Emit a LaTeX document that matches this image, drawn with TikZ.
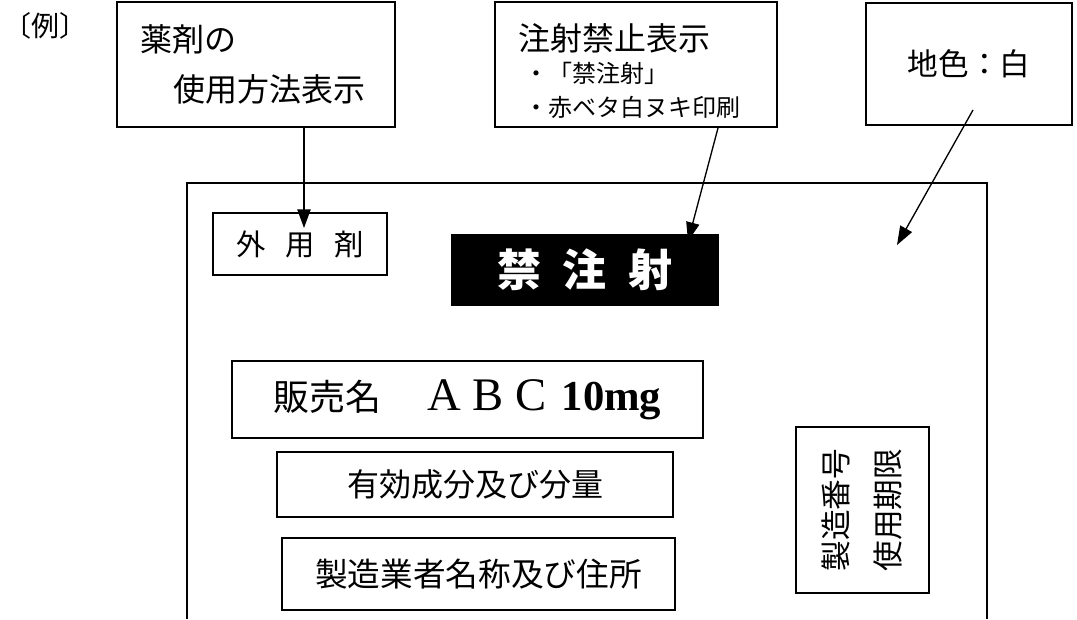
\documentclass[tikz,border=0pt]{standalone}
\usepackage{fontspec}
\setmainfont{Liberation Serif}
\newfontfamily\jp{Noto Sans CJK JP}
\usetikzlibrary{positioning,arrows.meta}

\begin{document}
\begin{tikzpicture}[
    x=0.75pt, y=-0.75pt,
    box/.style = {draw, line width=1.5pt, inner sep=0pt, align=center, font=\jp},
    > = {Triangle[length=14pt, width=10pt]}
]
\useasboundingbox (0,0) rectangle (1077,619);

\node (ex) [inner sep=0pt, anchor=west, font=\jp\fontsize{21}{23}\selectfont] at (3,26) {〔例〕};

% notes above the label
\node (use) [box, minimum width=208.5pt, minimum height=93.75pt, inner xsep=17.25pt, text width=174pt, align=left,
    font=\jp\fontsize{24}{37}\selectfont] at (256,64.5)
    {\rule{0pt}{14pt}薬剤の\\\hspace*{24.75pt}使用方法表示};
\node (warn) [box, minimum width=211.5pt, minimum height=93.75pt, inner xsep=17.25pt, text width=177pt, align=left,
    font=\jp\fontsize{18}{25.5}\selectfont] at (636,64.5)
    {{\fontsize{24}{26}\selectfont\rule{0pt}{30pt}注射禁止表示}\\[-1.5pt]
     \hspace*{5pt}・「禁注射」\\
     \hspace*{5pt}・赤ベタ白ヌキ印刷};
\node (ground) [box, minimum width=154.5pt, minimum height=91.5pt, font=\jp\fontsize{23}{25}\selectfont] at (969,64)
    {地色：白};

% the label itself
\draw[line width=1pt] (187,619) |- (987,183) -- (987,619);

\node (ext) [box, minimum width=130.5pt, minimum height=46.5pt, font=\jp\fontsize{22}{24}\selectfont] at (300,244)
    {外\hspace{15pt}用\hspace{15pt}剤};
\node (ban) [box, fill=black, text=white, minimum width=199.5pt, minimum height=52.5pt,
    font=\jp\bfseries\fontsize{33}{35}\selectfont] at (585,270)
    {禁\hspace{16pt}注\hspace{16pt}射};
\node (name) [box, minimum width=353.25pt, minimum height=57.75pt] at (467.5,399.5)
    {{\fontsize{27}{30}\selectfont 販売名}\hspace{34pt}{\rmfamily\fontsize{35}{37}\selectfont A\hspace{9pt}B\hspace{9pt}C}\hspace{11pt}{\rmfamily\bfseries\fontsize{32}{34}\selectfont 10mg}};
\node (comp) [box, minimum width=297pt, minimum height=48.75pt, font=\jp\fontsize{24}{26}\selectfont] at (475,484.5)
    {有効成分及び分量};
\node (maker) [box, minimum width=294.75pt, minimum height=54pt, font=\jp\fontsize{24.5}{26}\selectfont] at (478.5,574)
    {製造業者名称及び住所};
\node (lot) [box, rotate=90, minimum width=124.5pt, minimum height=99.75pt, font=\jp\fontsize{23}{39}\selectfont] at (862,510)
    {製造番号\\使用期限};

% pointers
\coordinate (useTip) at (304,228);
\coordinate (banTip) at (688,241);
\coordinate (bgTip) at (897,245);
\draw[->, line width=1pt] (use.south -| useTip) -- (useTip);
\draw[->, line width=1pt] ([xshift=61.5pt]warn.south) -- (banTip);
\draw[->, line width=1pt] ([xshift=3pt, yshift=12pt]ground.south) -- (bgTip);
\end{tikzpicture}
\end{document}
